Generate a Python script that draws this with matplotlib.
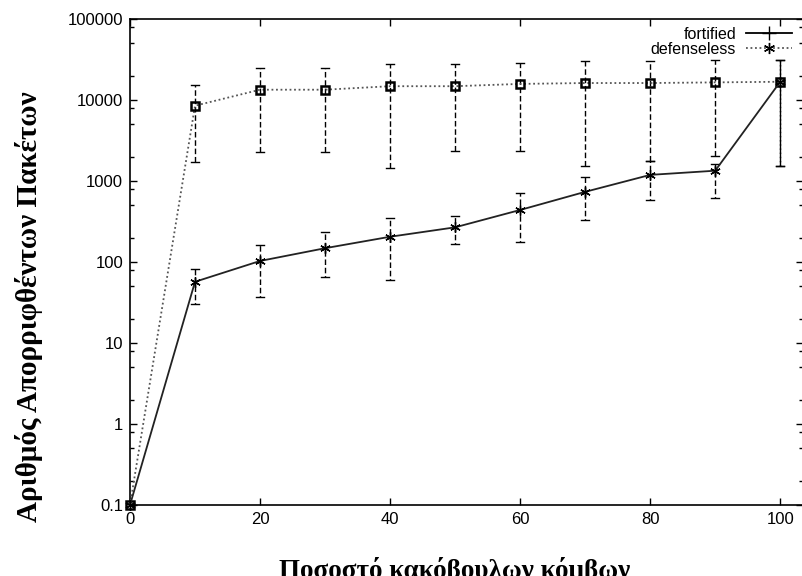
import matplotlib
matplotlib.use("Agg")
import matplotlib.pyplot as plt
from matplotlib.lines import Line2D
from matplotlib.ticker import LogLocator, FixedLocator, NullFormatter

# percentage of malicious nodes
x_vals = [0, 10, 20, 30, 40, 50, 60, 70, 80, 90, 100]

# fortified series (mean, low, high)
fortified = [0.1, 57, 103, 148, 205, 268, 439, 735, 1190, 1340, 16800]
fortified_lo = [0.1, 30, 37, 66, 60, 165, 178, 330, 588, 611, 1550]
fortified_hi = [0.1, 82, 162, 237, 352, 373, 705, 1130, 1780, 1620, 31400]

# defenseless series (mean, low, high)
defenseless = [0.1, 8500, 13400, 13400, 14800, 14800, 15800, 16200, 16200, 16500, 16800]
defenseless_lo = [0.1, 1700, 2260, 2260, 1440, 2370, 2370, 1550, 1780, 2050, 1550]
defenseless_hi = [0.1, 15300, 24800, 24800, 27800, 27800, 28600, 30300, 30300, 31400, 31400]

x_ticks = [0, 20, 40, 60, 80, 100]
y_ticks = [0.1, 1, 10, 100, 1000, 10000, 100000]
y_tick_labels = ["0.1", "1", "10", "100", "1000", "10000", "100000"]

sans = ["Liberation Sans", "DejaVu Sans"]
serif = ["Liberation Serif", "DejaVu Serif"]

fig = plt.figure(figsize=(8.02, 5.76), dpi=100)
ax = fig.add_axes([130 / 802, 71 / 576, 673 / 802, 486 / 576])
ax.set_yscale("log")
ax.set_xlim(0, 103.5)
ax.set_ylim(0.1, 100000)

asterisk = (6, 2, 0)


def draw_errors(vals, lo, hi, dash):
    for xv, v, l, h in zip(x_vals, vals, lo, hi):
        if h <= l:
            continue
        ax.plot([xv, xv], [l, h], color="black", lw=1.0,
                linestyle=dash, clip_on=False, zorder=2)
        for yv in (l, h):
            ax.plot([xv - 0.6, xv + 0.6], [yv, yv], color="black", lw=1.0,
                    clip_on=False, zorder=2)


# error bars (dashed; the two overlapping bars at 100 read as solid)
draw_errors(defenseless, defenseless_lo, defenseless_hi, (0, (4, 2)))
draw_errors(fortified, fortified_lo, fortified_hi, (3, (4, 2)))

# lines
ax.plot(x_vals, defenseless, color="#555555", lw=1.3, linestyle=(0, (1, 1.5)),
        marker="s", ms=6, mfc="none", mec="black", mew=1.8,
        clip_on=False, zorder=3)
ax.plot(x_vals, fortified, color="#222222", lw=1.3, linestyle="-",
        marker=asterisk, ms=7.5, mec="black", mew=1.0,
        clip_on=False, zorder=4)

# axes styling
ax.set_xticks(x_ticks)
ax.set_xticklabels([str(t) for t in x_ticks], fontfamily=sans, fontsize=12)
ax.yaxis.set_major_locator(FixedLocator(y_ticks))
ax.set_yticklabels(y_tick_labels, fontfamily=sans, fontsize=12)
ax.yaxis.set_minor_locator(LogLocator(base=10, subs=[2, 5, 8]))
ax.yaxis.set_minor_formatter(NullFormatter())
ax.tick_params(which="both", direction="in", top=True, right=True, width=1.0)
ax.tick_params(which="major", length=5, pad=5)
ax.tick_params(which="minor", length=3)
for s in ax.spines.values():
    s.set_linewidth(1.2)

# axis titles placed in figure pixels
fig.text(455 / 802, 1 - 557 / 576, "Ποσοστό κακόβουλων κόμβων",
         fontfamily=serif, fontweight="bold", fontsize=19.5,
         ha="center", va="top")
fig.text(29 / 802, 1 - 307 / 576, "Αριθμός Απορριφθέντων Πακέτων",
         fontfamily=serif, fontweight="bold", fontsize=21,
         ha="center", va="center", rotation=90)

# legend
handles = [
    Line2D([], [], color="black", lw=1.3, marker="+", ms=10, mew=1.0),
    Line2D([], [], color="#555555", lw=1.3, linestyle=(0, (1, 1.5)),
           marker=asterisk, ms=8, mec="black", mew=1.0),
]
ax.legend(handles, ["fortified", "defenseless"], loc="upper right",
          bbox_to_anchor=(0.9837, 0.9835), frameon=False, markerfirst=False,
          borderaxespad=0, borderpad=0, labelspacing=0.0, handlelength=2.9,
          handletextpad=0.6, prop={"family": sans, "size": 11.5})

fig.savefig("out.png", dpi=100)
